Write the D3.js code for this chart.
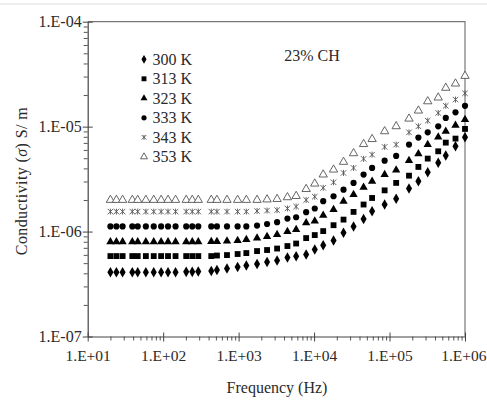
<!DOCTYPE html>
<html>
<head>
<meta charset="utf-8">
<script src="https://cdn.jsdelivr.net/npm/d3@7"></script>
<style>
  body { margin: 0; background: #fff; }
  text { font-family: "Liberation Serif", "Times New Roman", serif; fill: #2a2a2a; }
</style>
</head>
<body>
<svg id="chart" width="487" height="402"></svg>
<script>
// frequencies (Hz)
const freq = [20, 24, 29, 39, 46, 59, 75, 94, 116, 146,
    202, 243, 292, 434, 516, 701, 970, 1265, 1755, 2382,
    3235, 4434, 5785, 7852, 10210, 13210, 18110, 24550, 33350, 45290,
    58740, 86090, 122400, 181100, 241200, 320700, 441800, 556300, 748300, 1000000];

const seriesNames = ["300 K", "313 K", "323 K", "333 K", "343 K", "353 K"];

// conductivity S/m per temperature
const s300 = [4.1e-7, 4.1e-7, 4.1e-7, 4.1e-7, 4.1e-7, 4.1e-7, 4.1e-7, 4.1e-7, 4.1e-7, 4.1e-7,
    4.13e-7, 4.13e-7, 4.16e-7, 4.21e-7, 4.30e-7, 4.44e-7, 4.59e-7, 4.75e-7, 4.90e-7, 5.12e-7,
    5.30e-7, 5.65e-7, 5.82e-7, 6.04e-7, 6.74e-7, 7.41e-7, 8.21e-7, 9.72e-7, 1.12e-6, 1.32e-6,
    1.56e-6, 1.81e-6, 2.05e-6, 2.57e-6, 3.01e-6, 3.67e-6, 4.52e-6, 5.30e-6, 6.49e-6, 7.94e-6];
const s313 = [5.84e-7, 5.84e-7, 5.84e-7, 5.84e-7, 5.84e-7, 5.84e-7, 5.84e-7, 5.84e-7, 5.84e-7, 5.84e-7,
    5.84e-7, 5.84e-7, 5.84e-7, 5.84e-7, 5.91e-7, 5.97e-7, 6.11e-7, 6.24e-7, 6.52e-7, 6.67e-7,
    6.89e-7, 7.28e-7, 7.69e-7, 8.67e-7, 9.26e-7, 1.01e-6, 1.15e-6, 1.30e-6, 1.54e-6, 1.81e-6,
    2.09e-6, 2.47e-6, 2.91e-6, 3.41e-6, 4.13e-6, 4.96e-6, 5.82e-6, 7.04e-6, 7.69e-6, 9.51e-6];
const s323 = [7.98e-7, 7.98e-7, 7.98e-7, 7.98e-7, 7.98e-7, 7.98e-7, 7.98e-7, 7.98e-7, 7.98e-7, 7.98e-7,
    7.98e-7, 7.98e-7, 7.98e-7, 8.03e-7, 8.03e-7, 8.12e-7, 8.21e-7, 8.39e-7, 8.67e-7, 8.96e-7,
    9.36e-7, 1.0e-6, 1.045e-6, 1.21e-6, 1.26e-6, 1.43e-6, 1.62e-6, 1.94e-6, 2.25e-6, 2.64e-6,
    3.01e-6, 3.49e-6, 3.85e-6, 4.74e-6, 5.51e-6, 6.74e-6, 7.94e-6, 9.02e-6, 1.03e-5, 1.17e-5];
const s333 = [1.12e-6, 1.12e-6, 1.12e-6, 1.12e-6, 1.12e-6, 1.12e-6, 1.12e-6, 1.12e-6, 1.12e-6, 1.12e-6,
    1.12e-6, 1.12e-6, 1.12e-6, 1.12e-6, 1.12e-6, 1.12e-6, 1.12e-6, 1.12e-6, 1.14e-6, 1.18e-6,
    1.23e-6, 1.33e-6, 1.37e-6, 1.53e-6, 1.66e-6, 1.95e-6, 2.17e-6, 2.51e-6, 2.91e-6, 3.49e-6,
    4.04e-6, 4.74e-6, 5.26e-6, 6.74e-6, 7.86e-6, 8.82e-6, 1.007e-5, 1.21e-5, 1.37e-5, 1.58e-5];
const s343 = [1.55e-6, 1.55e-6, 1.55e-6, 1.55e-6, 1.55e-6, 1.55e-6, 1.55e-6, 1.55e-6, 1.55e-6, 1.55e-6,
    1.55e-6, 1.55e-6, 1.55e-6, 1.55e-6, 1.55e-6, 1.55e-6, 1.55e-6, 1.55e-6, 1.57e-6, 1.585e-6,
    1.60e-6, 1.66e-6, 1.73e-6, 2.00e-6, 2.15e-6, 2.61e-6, 2.95e-6, 3.62e-6, 4.04e-6, 4.93e-6,
    5.41e-6, 6.41e-6, 6.74e-6, 8.82e-6, 1.007e-5, 1.14e-5, 1.35e-5, 1.58e-5, 1.81e-5, 2.08e-5];
const s353 = [2.0e-6, 2.0e-6, 2.0e-6, 2.0e-6, 2.0e-6, 2.0e-6, 2.0e-6, 2.0e-6, 2.0e-6, 2.0e-6,
    2.0e-6, 2.0e-6, 2.0e-6, 2.0e-6, 2.0e-6, 2.0e-6, 2.0e-6, 2.0e-6, 2.0e-6, 2.02e-6,
    2.04e-6, 2.12e-6, 2.18e-6, 2.54e-6, 2.86e-6, 3.49e-6, 3.89e-6, 4.61e-6, 5.57e-6, 6.81e-6,
    7.60e-6, 9.02e-6, 1.007e-5, 1.19e-5, 1.42e-5, 1.74e-5, 1.89e-5, 2.34e-5, 2.57e-5, 3.04e-5];

const xTicks = [1e1, 1e2, 1e3, 1e4, 1e5, 1e6];
const xTickLabels = ["1.E+01", "1.E+02", "1.E+03", "1.E+04", "1.E+05", "1.E+06"];
const yTicks = [1e-7, 1e-6, 1e-5, 1e-4];
const yTickLabels = ["1.E-07", "1.E-06", "1.E-05", "1.E-04"];

const plotLeft = 87.7, plotRight = 465, plotTop = 21.7, plotBottom = 336.5;

const svg = d3.select("#chart");

// faint page rule at the very top
svg.append("line")
    .attr("x1", 0).attr("x2", 487).attr("y1", 4).attr("y2", 4)
    .attr("stroke", "#ddd").attr("stroke-width", 1);

let x = d3.scaleLog().domain([10, 1e6]).range([plotLeft, plotRight]);
let y = d3.scaleLog().domain([1e-7, 1e-4]).range([plotBottom, plotTop]);

// minor tick values (2..9 per decade)
function minors(lo, hi) {
    let out = [];
    for (let e = lo; e < hi; e++) {
        for (let k = 2; k <= 9; k++) out.push(k * Math.pow(10, e));
    }
    return out;
}

// frame: top and right
svg.append("path")
    .attr("d", `M${plotLeft},${plotTop}H${plotRight}V${plotBottom}`)
    .attr("fill", "none").attr("stroke", "#777").attr("stroke-width", 1.2);

// x axis minor ticks
svg.append("g")
    .attr("transform", `translate(0,${plotBottom})`)
    .call(d3.axisBottom(x).tickValues(minors(1, 6)).tickSize(4).tickFormat(""))
    .call(g => g.select(".domain").remove())
    .selectAll("line").attr("stroke", "#555");

// x axis major
let gx = svg.append("g")
    .attr("transform", `translate(0,${plotBottom})`)
    .call(d3.axisBottom(x).tickValues(xTicks).tickSize(5).tickSizeOuter(0)
        .tickFormat((d, i) => xTickLabels[i]));
gx.select(".domain").attr("stroke", "#444").attr("stroke-width", 1.2);
gx.selectAll(".tick line").attr("y1", -4).attr("stroke", "#444");
gx.selectAll(".tick text")
    .attr("y", 24).attr("dy", 0)
    .style("font-family", "'Liberation Serif', serif")
    .style("font-size", "15.5px").attr("fill", "#2a2a2a");
// keep the last label inside the page
gx.selectAll(".tick text").filter(d => d === 1e6).attr("text-anchor", "end").attr("x", 21);

// y axis minor ticks
svg.append("g")
    .attr("transform", `translate(${plotLeft},0)`)
    .call(d3.axisLeft(y).tickValues(minors(-7, -4)).tickSize(4).tickFormat(""))
    .call(g => g.select(".domain").remove())
    .selectAll("line").attr("stroke", "#555");

// y axis major
let gy = svg.append("g")
    .attr("transform", `translate(${plotLeft},0)`)
    .call(d3.axisLeft(y).tickValues(yTicks).tickSize(5).tickSizeOuter(0)
        .tickFormat((d, i) => yTickLabels[i]));
gy.select(".domain").attr("stroke", "#444").attr("stroke-width", 1.2);
gy.selectAll(".tick line").attr("x1", 5).attr("stroke", "#444");
gy.selectAll(".tick text")
    .attr("x", -6).attr("dy", "0.32em")
    .style("font-family", "'Liberation Serif', serif")
    .style("font-size", "16px").attr("fill", "#2a2a2a");

// axis titles
svg.append("text")
    .attr("x", 277).attr("y", 393)
    .attr("text-anchor", "middle")
    .style("font-size", "16px")
    .text("Frequency (Hz)");

let yl = svg.append("text")
    .attr("transform", "translate(27,181) rotate(-90)")
    .attr("text-anchor", "middle")
    .style("font-size", "16px")
    .style("letter-spacing", "0.4px");
yl.append("tspan").text("Conductivity (");
yl.append("tspan").style("font-style", "italic").text("σ");
yl.append("tspan").text(") S/ m");

svg.append("text")
    .attr("x", 312).attr("y", 61)
    .attr("text-anchor", "middle")
    .style("font-size", "16px")
    .text("23% CH");

// asterisk marker (x with a vertical bar)
const symbolStar = {
    draw(context, size) {
        let r = Math.sqrt(size) / 2;
        context.moveTo(-r, -r); context.lineTo(r, r);
        context.moveTo(r, -r); context.lineTo(-r, r);
        context.moveTo(0, -r * 1.1); context.lineTo(0, r * 1.1);
    }
};

const styles = [
    {type: d3.symbolDiamond, size: 32, fill: "#000", stroke: "none"},
    {type: d3.symbolSquare, size: 34, fill: "#000", stroke: "none"},
    {type: d3.symbolTriangle, size: 30, fill: "#000", stroke: "none"},
    {type: d3.symbolCircle, size: 30, fill: "#000", stroke: "none"},
    {type: symbolStar, size: 30, fill: "none", stroke: "#555"},
    {type: d3.symbolTriangle, size: 30, fill: "#fff", stroke: "#555"}
];

const allSeries = [s300, s313, s323, s333, s343, s353];

allSeries.forEach((vals, si) => {
    let st = styles[si];
    let pts = freq.map((f, i) => ({f: f, v: vals[i]}));
    svg.append("g").selectAll("path").data(pts).join("path")
        .attr("transform", d => `translate(${x(d.f)},${y(d.v)})`)
        .attr("d", d3.symbol().type(st.type).size(st.size))
        .attr("fill", st.fill)
        .attr("stroke", st.stroke)
        .attr("stroke-width", 0.9);
});

// legend
let lg = svg.append("g");
seriesNames.forEach((name, i) => {
    let st = styles[i];
    let ly = 59.3 + i * 19.5;
    lg.append("path")
        .attr("transform", `translate(144,${ly})`)
        .attr("d", d3.symbol().type(st.type).size(st.size * 0.7))
        .attr("fill", st.fill)
        .attr("stroke", st.stroke)
        .attr("stroke-width", 0.9);
    lg.append("text")
        .attr("x", 152.5).attr("y", ly + 5.5)
        .style("font-size", "16px")
        .text(name);
});
</script>
</body>
</html>
